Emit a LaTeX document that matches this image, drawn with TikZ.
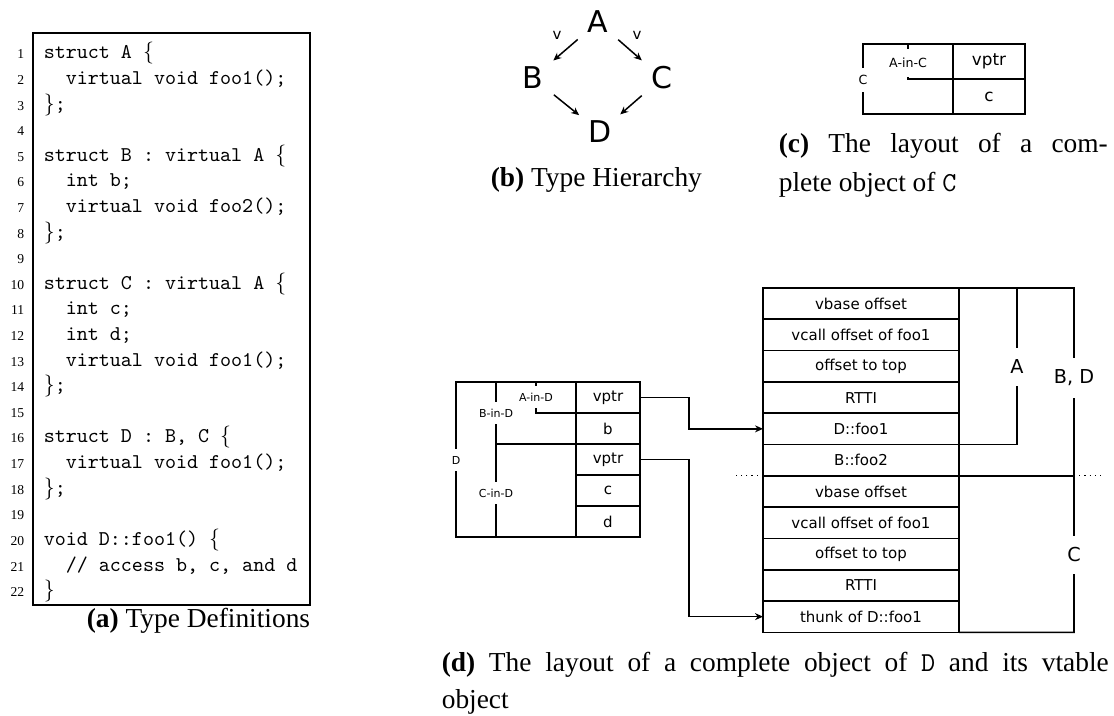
\documentclass[tikz,border=0pt]{standalone}
\usepackage{fontspec}
\setmainfont{Liberation Serif}
\newfontfamily\diafont{DejaVu Sans}
\usetikzlibrary{arrows.meta}

\tikzset{
	cell/.style={draw, inner sep=0pt, outer sep=0pt, font=\diafont\fontsize{7.5}{9}\selectfont},
	vcell/.style={cell, anchor=north west, minimum width=98pt, minimum height=15.65pt},
	ocell/.style={cell, anchor=north west, minimum width=32pt, minimum height=15.5pt},
	ccell/.style={cell, anchor=north west, minimum width=36pt, minimum height=17.5pt, font=\diafont\fontsize{8.4}{10}\selectfont},
	gaplbl/.style={fill=white, inner xsep=0.5pt, inner ysep=3.5pt, font=\diafont\fontsize{5.5}{6.5}\selectfont},
	biglbl/.style={fill=white, inner xsep=1pt, inner ysep=6pt, font=\diafont\fontsize{9.6}{11}\selectfont},
	typ/.style={circle, minimum size=26pt, inner sep=0pt, font=\diafont\fontsize{15}{18}\selectfont},
	vlbl/.style={inner sep=0pt, font=\diafont\fontsize{7.5}{9}\selectfont},
	capt/.style={anchor=base west, inner sep=0pt, font=\fontsize{13.7}{16}\selectfont},
	codeln/.style={anchor=base west, inner sep=0pt, font=\ttfamily\fontsize{10.5}{12.5}\selectfont},
	numln/.style={anchor=base east, inner sep=0pt, font=\fontsize{6.8}{8}\selectfont}
}

\begin{document}
\begin{tikzpicture}[x=0.5pt, y=-0.5pt, line width=0.8pt, >={Stealth[length=4pt, width=3.5pt]}]
	\useasboundingbox (0,0) rectangle (1114,716);
	
	%type definitions
	\draw (33,33) rectangle (310,605);
	\foreach \i in {1, 2, ..., 22}{
		\node[numln] (n\i) at (25, {59+(\i-1)*25.6}) {\i};
	}
	\foreach \txt [count=\i] in {struct A $\{$, \ \ virtual void foo1();, $\}$;, {},
		struct B : virtual A $\{$, \ \ int b;, \ \ virtual void foo2();, $\}$;, {},
		struct C : virtual A $\{$, \ \ int c;, \ \ int d;, \ \ virtual void foo1();, $\}$;, {},
		{struct D : B, C $\{$}, \ \ virtual void foo1();, $\}$;, {},
		void D::foo1() $\{$, {\ \ // access b, c, and d}, $\}$}{
		\node[codeln] (l\i) at (43, {59+(\i-1)*25.6}) {\txt};
	}
	\node[capt] (capa) at (86,627) {\textbf{(a)} Type Definitions};
	
	%type hierarchy
	\node[typ] (A) at (598,22) {A};
	\node[typ] (B) at (533,78) {B};
	\node[typ] (C) at (662,78) {C};
	\node[typ] (D) at (600,132) {D};
	\draw[->, line width=0.75pt] (A) -- (B);
	\draw[->, line width=0.75pt] (A) -- (C);
	\draw[->, line width=0.75pt] (B) -- (D);
	\draw[->, line width=0.75pt] (C) -- (D);
	\node[vlbl] (vb) at (557,35) {v};
	\node[vlbl] (vc) at (637,35) {v};
	\node[capt] (capb) at (490,187) {\textbf{(b)} Type Hierarchy};
	
	%layout of C
	\node[ccell] (cv) at (953,44) {vptr};
	\node[ccell] (cc) at (953,79) {c};
	\draw (cv.north west) -- (863,44) -- (863,114) -- (cc.south west);
	\draw (908,44) |- (cc.north west);
	\node[gaplbl, font=\diafont\fontsize{6.3}{7.5}\selectfont] (lc) at (863,80) {C};
	\node[gaplbl, inner ysep=4.5pt, font=\diafont\fontsize{6.3}{7.5}\selectfont] (laic) at (908,63) {A-in-C};
	\node[capt] (capc1) at (778,153) {\hbox to 164.5pt{\textbf{(c)} The layout of a com-}};
	\node[capt] (capc2) at (778,192) {plete object of \texttt{C}};
	
	%layout of D
	\foreach \lbl [count=\i] in {vptr, b, vptr, c, d}{
		\node[ocell] (ob\i) at (576, {382+(\i-1)*31}) {\lbl};
	}
	\draw (ob1.north west) -- (456,382) -- (456,537) -- (ob5.south west);
	\draw (496,382) -- (496,537);
	\draw (496,444) -- (ob3.north west);
	\draw (536,382) |- (ob2.north west);
	\node[gaplbl] (ld) at (456,460) {D};
	\node[gaplbl] (lbd) at (496,413) {B-in-D};
	\node[gaplbl] (lcd) at (496,493) {C-in-D};
	\node[gaplbl] (lad) at (536,397) {A-in-D};
	
	%vtable of D
	\foreach \lbl [count=\i] in {vbase offset, vcall offset of foo1, offset to top, RTTI, D::foo1, B::foo2,
		vbase offset, vcall offset of foo1, offset to top, RTTI, thunk of D::foo1}{
		\node[vcell] (vt\i) at (763, {288+(\i-1)*31.3}) {\lbl};
	}
	\draw (vt1.north east) -- (1074,288) -- (1074,632.3) -- (vt11.south east);
	\draw (1017,288) |- (vt5.south east);
	\draw (vt6.south east) -- (1074,475.8);
	\draw[dotted, line width=0.6pt] (vt6.south west) -- ++(-30,0);
	\draw[dotted, line width=0.6pt] (1074,475.8) -- ++(31,0);
	\node[biglbl] (la) at (1017,367) {A};
	\node[biglbl] (lbdd) at (1074,378) {B, D};
	\node[biglbl] (lcc) at (1074,555) {C};
	
	%vptrs
	\draw[->, line width=0.7pt] (ob1.east) -- ++(49,0) |- (vt5.west);
	\draw[->, line width=0.7pt] (ob3.east) -- ++(49,0) |- (vt11.west);
	
	\node[capt] (capd1) at (441,671) {\hbox to 333.5pt{\textbf{(d)} The layout of a complete object of \texttt{D} and its vtable}};
	\node[capt] (capd2) at (441,708) {object};
\end{tikzpicture}
\end{document}
